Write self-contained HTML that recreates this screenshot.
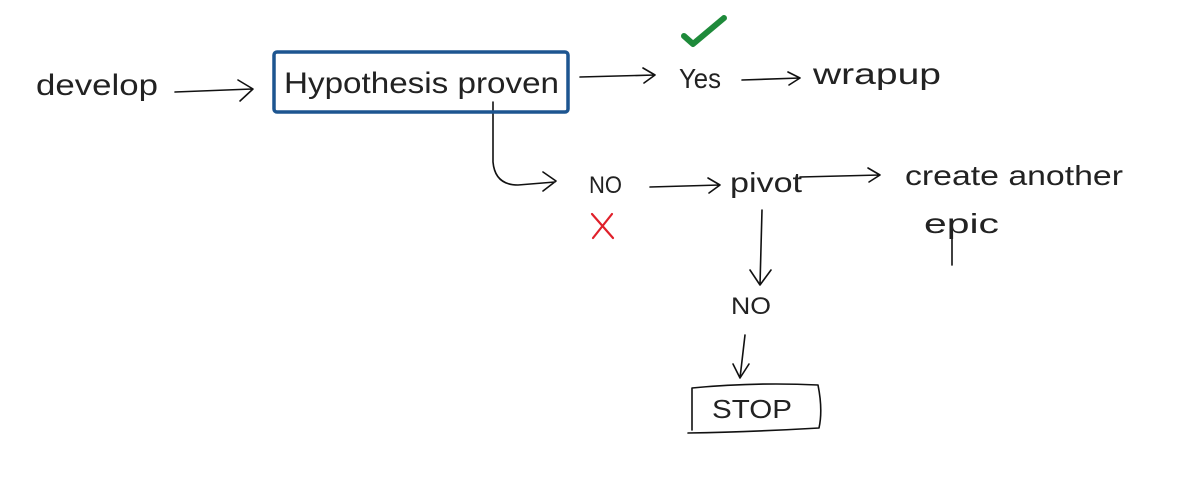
<!DOCTYPE html>
<html><head><meta charset="utf-8"><style>
html,body{margin:0;padding:0;background:#fff;}
svg{display:block}
text{font-family:"Liberation Sans",sans-serif;fill:#222;}
</style></head><body>
<svg width="1190" height="484" viewBox="0 0 1190 484" xmlns="http://www.w3.org/2000/svg">
<g fill="none" stroke="#111" stroke-width="1.6" stroke-linecap="round" stroke-linejoin="round">
<path d="M175 92 L252 89 M238 80 L253 89 L240 101"/>
<path d="M580 77 L655 75 M643 68 L655 75 L644 83"/>
<path d="M742 80 L800 78 M788 72 L800 78 L789 85"/>
<path d="M493 102 L493 162 Q495 185 518 185 L555 182 M543 172 L556 181 L543 191"/>
<path d="M650 187 L720 185 M708 178 L720 185 L709 193"/>
<path d="M800 177 L880 175 M868 168 L880 175 L869 182"/>
<path d="M762 210 L760 285 M750 270 L760 285 L771 270"/>
<path d="M745 335 L740 378 M733 364 L740 378 L749 364"/>
<path d="M692 388 Q755 382 818 385 Q823 410 819 428 Q750 432 688 433 M692 388 L692 430"/>
<path d="M952 225 L952 265"/>
</g>
<rect x="274" y="52" width="294" height="60" rx="3" fill="none" stroke="#1d5590" stroke-width="3.5"/>
<path d="M684 36 L693 44 L724 18" fill="none" stroke="#1e8a3a" stroke-width="6" stroke-linecap="round" stroke-linejoin="round"/>
<path d="M592 214 L613 238 M612 214 L593 238" fill="none" stroke="#e0202a" stroke-width="2.2" stroke-linecap="round"/>
<text x="36" y="95" font-size="30" textLength="122" lengthAdjust="spacingAndGlyphs">develop</text>
<text x="284" y="93" font-size="30" textLength="275" lengthAdjust="spacingAndGlyphs">Hypothesis proven</text>
<text x="679" y="88" font-size="28" textLength="42" lengthAdjust="spacingAndGlyphs">Yes</text>
<text x="813" y="84" font-size="30" textLength="128" lengthAdjust="spacingAndGlyphs">wrapup</text>
<text x="589" y="193" font-size="24" textLength="33" lengthAdjust="spacingAndGlyphs">NO</text>
<text x="730" y="192" font-size="28" textLength="72" lengthAdjust="spacingAndGlyphs">pivot</text>
<text x="905" y="185" font-size="28" textLength="218" lengthAdjust="spacingAndGlyphs">create another</text>
<text x="924" y="233" font-size="28" textLength="75" lengthAdjust="spacingAndGlyphs">epic</text>
<text x="731" y="314" font-size="24" textLength="40" lengthAdjust="spacingAndGlyphs">NO</text>
<text x="712" y="418" font-size="26" textLength="80" lengthAdjust="spacingAndGlyphs">STOP</text>
</svg>
</body></html>
